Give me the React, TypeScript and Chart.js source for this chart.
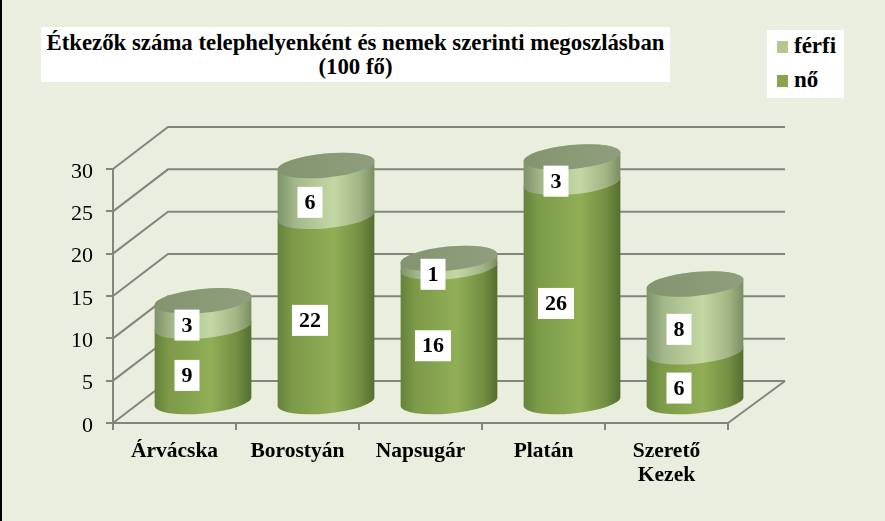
import React, { useEffect, useRef } from 'react';
import { Chart, registerables } from 'chart.js';

Chart.register(...registerables);

const sites = ['Árvácska', 'Borostyán', 'Napsugár', 'Platán', ['Szerető', 'Kezek']];
const ferfi = [3, 6, 1, 3, 8];
const no = [9, 22, 16, 26, 6];

const FONT = '"Liberation Serif", serif';
const LINE = '#83867a';
const DEPTH_X = 55;
const DEPTH_Y = 42;
const TILT = -0.095;
const RY = 12;

const noStops: [number, string][] = [[0, '#64823a'], [0.15, '#7c9a48'], [0.58, '#90af56'], [0.85, '#728f42'], [1, '#546d30']];
const ferfiStops: [number, string][] = [[0, '#7e9168'], [0.18, '#a3b88a'], [0.58, '#c4d8a4'], [0.85, '#a0b582'], [1, '#7a8d62']];

// back wall and side wall of the fake 3D box, taken from the y scale
const wallPlugin = {
    id: 'wall',
    beforeDatasetsDraw(chart: any) {
        const { ctx, scales, chartArea } = chart;
        ctx.save();
        ctx.strokeStyle = LINE;
        ctx.lineWidth = 2;
        scales.y.ticks.forEach((t: any) => {
            const y = scales.y.getPixelForValue(t.value);
            ctx.beginPath();
            ctx.moveTo(chartArea.left, y);
            ctx.lineTo(chartArea.left + DEPTH_X, y - DEPTH_Y);
            ctx.lineTo(chartArea.right + DEPTH_X + 2, y - DEPTH_Y);
            ctx.stroke();
        });
        ctx.beginPath();
        ctx.moveTo(chartArea.right, chartArea.bottom);
        ctx.lineTo(chartArea.right + DEPTH_X + 2, chartArea.bottom - DEPTH_Y);
        ctx.stroke();
        ctx.restore();
    },
};

// turns the invisible stacked bars into cylinders standing mid-way in the box
const cylinderPlugin = {
    id: 'cylinders',
    afterDatasetsDraw(chart: any) {
        const { ctx } = chart;
        const count = chart.data.labels.length;
        for (let i = 0; i < count; i++) {
            chart.data.datasets.forEach((ds: any, d: number) => {
                const bar = chart.getDatasetMeta(d).data[i];
                const cx = bar.x + DEPTH_X / 2 + 1;
                const rx = bar.width / 2;
                const top = bar.y - DEPTH_Y / 2 + 0.5;
                const bottom = bar.base - DEPTH_Y / 2 + 0.5;
                const stops = d === 0 ? noStops : ferfiStops;
                const grad = ctx.createLinearGradient(cx - rx, 0, cx + rx, 0);
                stops.forEach(([p, c]) => grad.addColorStop(p, c));
                ctx.beginPath();
                ctx.ellipse(cx, bottom, rx, RY, TILT, 0, Math.PI);
                ctx.ellipse(cx, top, rx, RY, TILT, Math.PI, Math.PI * 2);
                ctx.closePath();
                ctx.fillStyle = grad;
                ctx.fill();
                if (d === chart.data.datasets.length - 1) {
                    const face = ctx.createLinearGradient(cx - rx, 0, cx + rx, 0);
                    face.addColorStop(0, '#84946f');
                    face.addColorStop(1, '#909e7d');
                    ctx.beginPath();
                    ctx.ellipse(cx, top, rx, RY, TILT, 0, Math.PI * 2);
                    ctx.fillStyle = face;
                    ctx.fill();
                }
            });
            // value labels go on top of the whole cylinder
            chart.data.datasets.forEach((ds: any, d: number) => {
                const bar = chart.getDatasetMeta(d).data[i];
                const text = String(ds.data[i]);
                ctx.font = `bold 22px ${FONT}`;
                const w = ctx.measureText(text).width + 14;
                const x = bar.x + 12.5;
                const y = (bar.y + bar.base) / 2 - 9;
                ctx.fillStyle = '#ffffff';
                ctx.fillRect(x - w / 2, y - 15.5, w, 31);
                ctx.fillStyle = '#000000';
                ctx.textAlign = 'center';
                ctx.textBaseline = 'middle';
                ctx.fillText(text, x, y + 1);
            });
        }
    },
};

const App: React.FC = () => {
    const canvasRef = useRef<HTMLCanvasElement>(null);

    useEffect(() => {
        document.body.style.margin = '0';
        if (!canvasRef.current) return;
        const chart = new Chart(canvasRef.current, {
            type: 'bar',
            data: {
                labels: sites,
                datasets: [
                    { label: 'nő', data: no, backgroundColor: 'transparent', stack: 's' },
                    { label: 'férfi', data: ferfi, backgroundColor: 'transparent', stack: 's' },
                ],
            },
            options: {
                animation: false,
                responsive: false,
                devicePixelRatio: 1,
                layout: { padding: { top: 169, right: 157, left: 0, bottom: 0 } },
                barPercentage: 0.79,
                categoryPercentage: 1,
                plugins: { legend: { display: false }, title: { display: false }, tooltip: { enabled: false } },
                scales: {
                    x: {
                        stacked: true,
                        afterFit: (s: any) => { s.height = 98; },
                        grid: { drawOnChartArea: false, color: LINE, lineWidth: 2, tickLength: 7 },
                        border: { color: LINE, width: 2 },
                        ticks: { color: '#000', maxRotation: 0, autoSkip: false, padding: 9, font: { family: FONT, size: 21.5, weight: 'bold', lineHeight: 1.12 } },
                    },
                    y: {
                        stacked: true,
                        min: 0,
                        max: 30,
                        afterFit: (s: any) => { s.width = 113; },
                        grid: { drawOnChartArea: false, color: LINE, lineWidth: 2, tickLength: 7 },
                        border: { color: LINE, width: 2 },
                        ticks: { color: '#000', stepSize: 5, padding: 13, labelOffset: 3, font: { family: FONT, size: 22 } },
                    },
                },
            },
            plugins: [wallPlugin, cylinderPlugin],
        } as any);
        return () => chart.destroy();
    }, []);

    const swatch = (top: number, bg: string) => (
        <div style={{ position: 'absolute', left: 10, top, width: 11, height: 12, background: bg }} />
    );
    const legendText = (top: number, text: string) => (
        <div style={{ position: 'absolute', left: 27, top, fontSize: 23, fontWeight: 'bold', lineHeight: '26px' }}>{text}</div>
    );

    return (
        <div style={{ position: 'relative', width: 885, height: 521, overflow: 'hidden', background: '#eaeede', fontFamily: FONT, color: '#000' }}>
            <canvas ref={canvasRef} width={885} height={521} style={{ position: 'absolute', left: 0, top: 0 }} />
            <div style={{ position: 'absolute', left: 0, top: 0, width: 2, height: 521, background: '#000' }} />
            <div style={{ position: 'absolute', left: 41, top: 27, width: 629, height: 55, background: '#fff', textAlign: 'center', fontWeight: 'bold', fontSize: 22.8, lineHeight: '24px', paddingTop: 4, boxSizing: 'border-box', whiteSpace: 'nowrap' }}>
                Étkezők száma telephelyenként és nemek szerinti megoszlásban
                <br />
                (100 fő)
            </div>
            <div style={{ position: 'absolute', left: 767, top: 30, width: 77, height: 68, background: '#fff' }}>
                {swatch(11, '#b3c78f')}
                {legendText(3, 'férfi')}
                {swatch(45, '#87a44e')}
                {legendText(37, 'nő')}
            </div>
        </div>
    );
};

export default App;
